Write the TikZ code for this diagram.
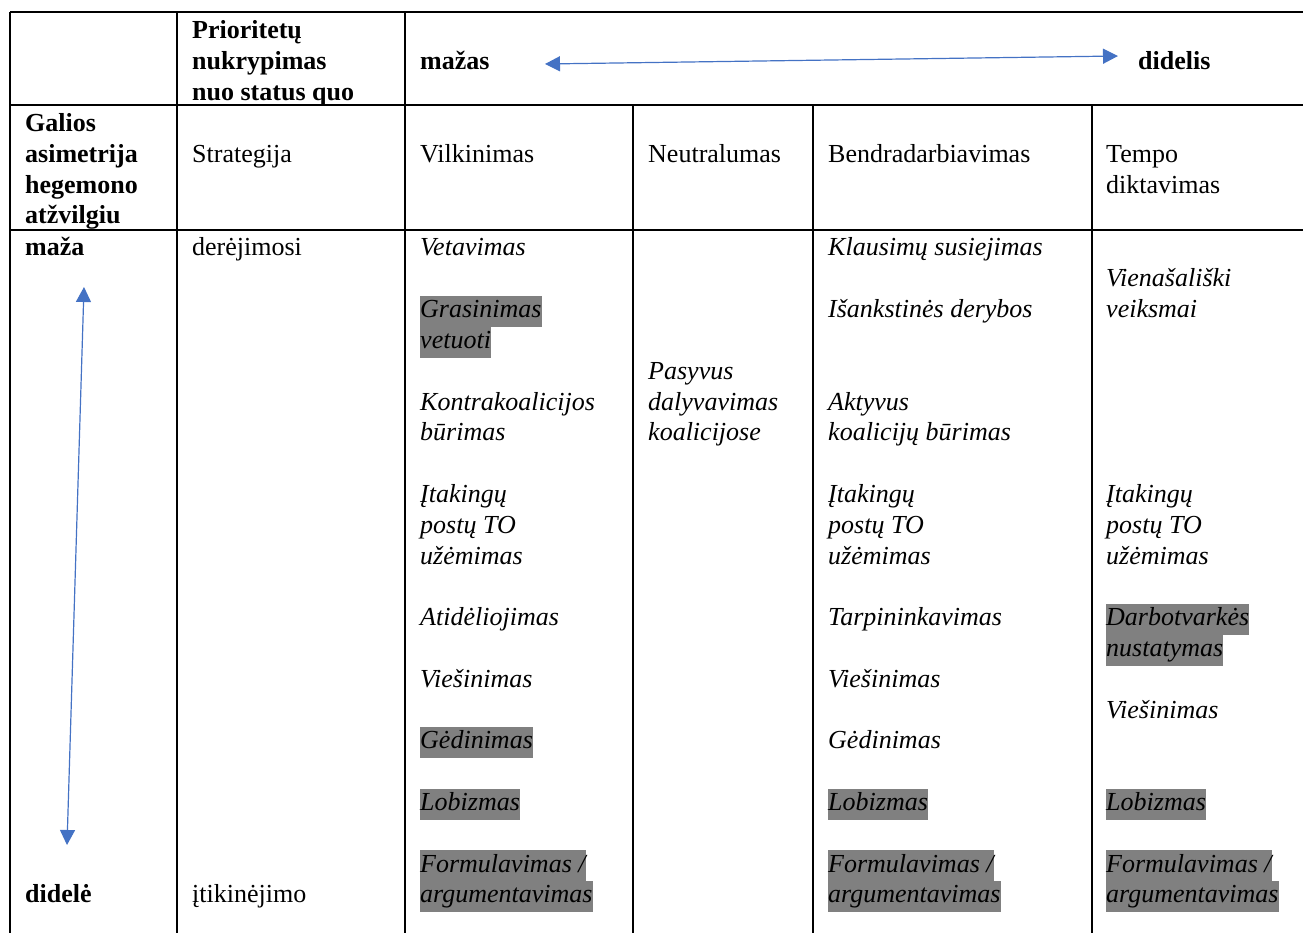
\documentclass[tikz,border=0pt]{standalone}
\usepackage{fontspec}
\setmainfont{Liberation Serif}
\usetikzlibrary{arrows.meta,positioning}
\definecolor{arrowBlue}{RGB}{68,114,196}
\definecolor{hlGray}{RGB}{128,128,128}
\newcommand{\hlt}[1]{{\setlength{\fboxsep}{0pt}\colorbox{hlGray}{\strut #1}}}
\tikzset{
  gridline/.style={line width=1.3pt,black},
  cell/.style={anchor=base west,align=left,inner sep=0pt,font=\fontsize{26}{30.8}\selectfont},
  head/.style={cell,font=\fontsize{26}{30.8}\selectfont\bfseries},
  entry/.style={cell,font=\fontsize{26}{30.8}\selectfont\itshape},
  scalearrow/.style={arrowBlue,line width=1.2pt,{Triangle[length=15pt,width=15pt]}-{Triangle[length=15pt,width=15pt]}}
}
\begin{document}
\begin{tikzpicture}[x=1pt,y=-1pt]
\useasboundingbox (0,0) rectangle (1303,933);
% table rules
\draw[gridline] (10,12) -- (1303,12);
\draw[gridline] (10,105) -- (1303,105);
\draw[gridline] (10,230) -- (1303,230);
\draw[gridline] (10,12) -- (10,933);
\draw[gridline] (177,12) -- (177,933);
\draw[gridline] (405,12) -- (405,933);
\draw[gridline] (633,105) -- (633,933);
\draw[gridline] (813,105) -- (813,933);
\draw[gridline] (1092,105) -- (1092,933);

% header rows (multi-line nodes sit on their last baseline)
\node[head] (prio) at (192,100.6) {Prioritetų\\nukrypimas\\nuo status quo};
\node[head] (mazas) at (420,69.8) {mažas};
\node[head] (didelis) at (1138,69.8) {didelis};
\node[head] (galios) at (25,223.9) {Galios\\asimetrija\\hegemono\\atžvilgiu};
\node[cell] (strat) at (192,162.3) {Strategija};
\node[cell] (vilk) at (420,162.3) {Vilkinimas};
\node[cell] (neutr) at (648,162.3) {Neutralumas};
\node[cell] (bendr) at (828,162.3) {Bendradarbiavimas};
\node[cell] (tempo) at (1106,193.1) {Tempo\\diktavimas};

% first column and strategy
\node[head] (maza) at (25,256) {maža};
\node[head] (didele) at (25,902.8) {didelė};
\node[cell] (derej) at (192,256) {derėjimosi};
\node[cell] (itik) at (192,902.8) {įtikinėjimo};

% Vilkinimas
\node[entry] (v1) at (420,256) {Vetavimas};
\node[entry] (v2) at (420,348.4) {\hlt{Grasinimas}\\\hlt{vetuoti}};
\node[entry] (v3) at (420,440.8) {Kontrakoalicijos\\būrimas};
\node[entry] (v4) at (420,564) {Įtakingų\\postų TO\\užėmimas};
\node[entry] (v5) at (420,625.6) {Atidėliojimas};
\node[entry] (v6) at (420,687.2) {Viešinimas};
\node[entry] (v7) at (420,748.8) {\hlt{Gėdinimas}};
\node[entry] (v8) at (420,810.4) {\hlt{Lobizmas}};
\node[entry] (v9) at (420,902.8) {\hlt{Formulavimas /}\\\hlt{argumentavimas}};

% Neutralumas
\node[entry] (n1) at (648,440.8) {Pasyvus\\dalyvavimas\\koalicijose};

% Bendradarbiavimas
\node[entry] (b1) at (828,256) {Klausimų susiejimas};
\node[entry] (b2) at (828,317.6) {Išankstinės derybos};
\node[entry] (b3) at (828,440.8) {Aktyvus\\koalicijų būrimas};
\node[entry] (b4) at (828,564) {Įtakingų\\postų TO\\užėmimas};
\node[entry] (b5) at (828,625.6) {Tarpininkavimas};
\node[entry] (b6) at (828,687.2) {Viešinimas};
\node[entry] (b7) at (828,748.8) {Gėdinimas};
\node[entry] (b8) at (828,810.4) {\hlt{Lobizmas}};
\node[entry] (b9) at (828,902.8) {\hlt{Formulavimas /}\\\hlt{argumentavimas}};

% Tempo diktavimas
\node[entry] (t1) at (1106,317.6) {Vienašališki\\veiksmai};
\node[entry] (t2) at (1106,564) {Įtakingų\\postų TO\\užėmimas};
\node[entry] (t3) at (1106,656.4) {\hlt{Darbotvarkės}\\\hlt{nustatymas}};
\node[entry] (t4) at (1106,718) {Viešinimas};
\node[entry] (t5) at (1106,810.4) {\hlt{Lobizmas}};
\node[entry] (t6) at (1106,902.8) {\hlt{Formulavimas /}\\\hlt{argumentavimas}};

% scale arrows
\coordinate (hleft) at (545,64);
\coordinate (hright) at (1118,56);
\coordinate (vtop) at (84,287);
\coordinate (vbot) at (67,845);
\draw[scalearrow] (hleft) -- (hright);
\draw[scalearrow] (vtop) -- (vbot);
\end{tikzpicture}
\end{document}
